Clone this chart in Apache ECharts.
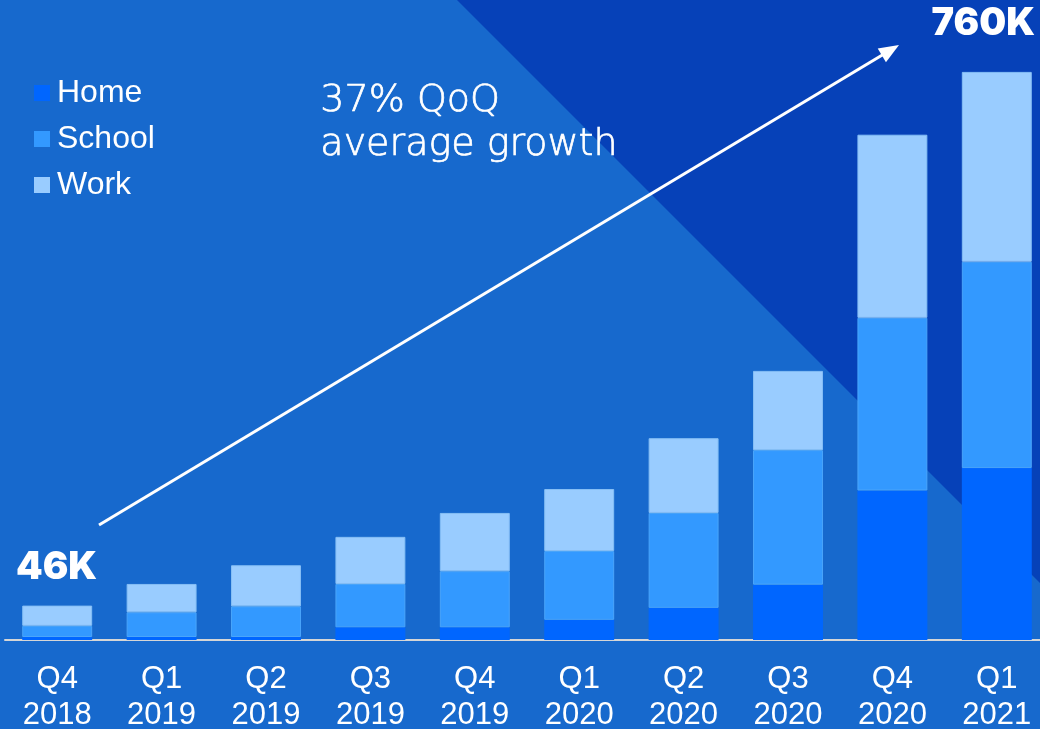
<!DOCTYPE html>
<html>
<head>
<meta charset="utf-8">
<script src="https://cdn.jsdelivr.net/npm/echarts@6/dist/echarts.min.js"></script>
<style>html,body{margin:0;padding:0;background:#1769cd;}#c{width:1040px;height:729px;}</style>
</head>
<body>
<div id="c"></div>
<script>
var quarters = ['Q4','Q1','Q2','Q3','Q4','Q1','Q2','Q3','Q4','Q1'];
var years = ['2018','2019','2019','2019','2019','2020','2020','2020','2020','2021'];
var home = [4, 4, 4, 17, 17, 27, 43, 74, 200, 230];
var school = [15, 33, 41, 58, 75, 92, 127, 180, 231, 276];
var work = [27, 38, 55, 63, 78, 83, 100, 106, 245, 254];
var seriesNames = ['Home', 'School', 'Work'];
var endLabels = ['46K', '760K'];
var growthText = ['37% QoQ', 'average growth'];

var categories = quarters.map(function (q, i) { return q + '\n' + years[i]; });
var colors = ['#0066ff', '#3399ff', '#99ccff'];

var chart = echarts.init(document.getElementById('c'));

// arrow geometry (annotation)
var ax0 = 99, ay0 = 525, ax1 = 899, ay1 = 45;
var dx = ax1 - ax0, dy = ay1 - ay0, len = Math.sqrt(dx*dx + dy*dy);
var ux = dx / len, uy = dy / len, hl = 20, hw = 8;
var bx = ax1 - ux * hl, by = ay1 - uy * hl;

function mkSeries(name, data, color, border) {
  return {
    name: name, type: 'bar', stack: 'total', data: data,
    barCategoryGap: '33%',
    itemStyle: { color: color, borderColor: border, borderWidth: border ? 1 : 0 },
    emphasis: { disabled: true }
  };
}

chart.setOption({
  backgroundColor: '#1769cd',
  animation: false,
  color: colors,
  grid: { left: 5, right: -9, top: 42, bottom: 89, outerBoundsMode: 'none', containLabel: false },
  legend: {
    orient: 'vertical', left: 34, top: 77, padding: 0,
    icon: 'rect', itemWidth: 16, itemHeight: 16, itemGap: 14,
    itemStyle: { borderWidth: 0 },
    data: seriesNames,
    textStyle: { color: '#ffffff', fontSize: 32, fontFamily: 'Liberation Sans', lineHeight: 31, padding: [0, 0, 0, 2] }
  },
  xAxis: {
    type: 'category', data: categories,
    axisLine: { show: true, lineStyle: { color: '#d6d6d6', width: 2 } },
    axisTick: { show: false },
    axisLabel: { color: '#ffffff', fontSize: 31, lineHeight: 36, fontFamily: 'Liberation Sans', margin: 21, interval: 0 }
  },
  yAxis: { type: 'value', min: 0, max: 800, show: false, splitLine: { show: false } },
  graphic: [
    { type: 'polygon', z: -10, silent: true, shape: { points: [[457, 0], [1040, 0], [1040, 583]] }, style: { fill: '#0641b8' } },
    { type: 'line', z: 100, silent: true, shape: { x1: ax0, y1: ay0, x2: bx + ux * 2, y2: by + uy * 2 }, style: { stroke: '#ffffff', lineWidth: 3 } },
    { type: 'polygon', z: 100, silent: true, shape: { points: [[ax1, ay1], [bx - uy * hw, by + ux * hw], [bx + uy * hw, by - ux * hw]] }, style: { fill: '#ffffff' } },
    { type: 'text', z: 100, left: 16, top: 549, style: { text: endLabels[0], fill: '#ffffff', font: '900 38px Inter' } },
    { type: 'text', z: 100, right: 5, top: 5, style: { text: endLabels[1], fill: '#ffffff', font: '900 38px Inter' } },
    { type: 'text', z: 100, left: 320, top: 79, style: { text: growthText.join('\n'), fill: '#ffffff', stroke: '#ffffff', lineWidth: 0.7, font: '200 38px "DejaVu Sans"', lineHeight: 44 } }
  ],
  series: [
    mkSeries(seriesNames[0], home, colors[0], null),
    mkSeries(seriesNames[1], school, colors[1], '#4aa5fa'),
    mkSeries(seriesNames[2], work, colors[2], '#86bff5')
  ]
});
</script>
</body>
</html>
